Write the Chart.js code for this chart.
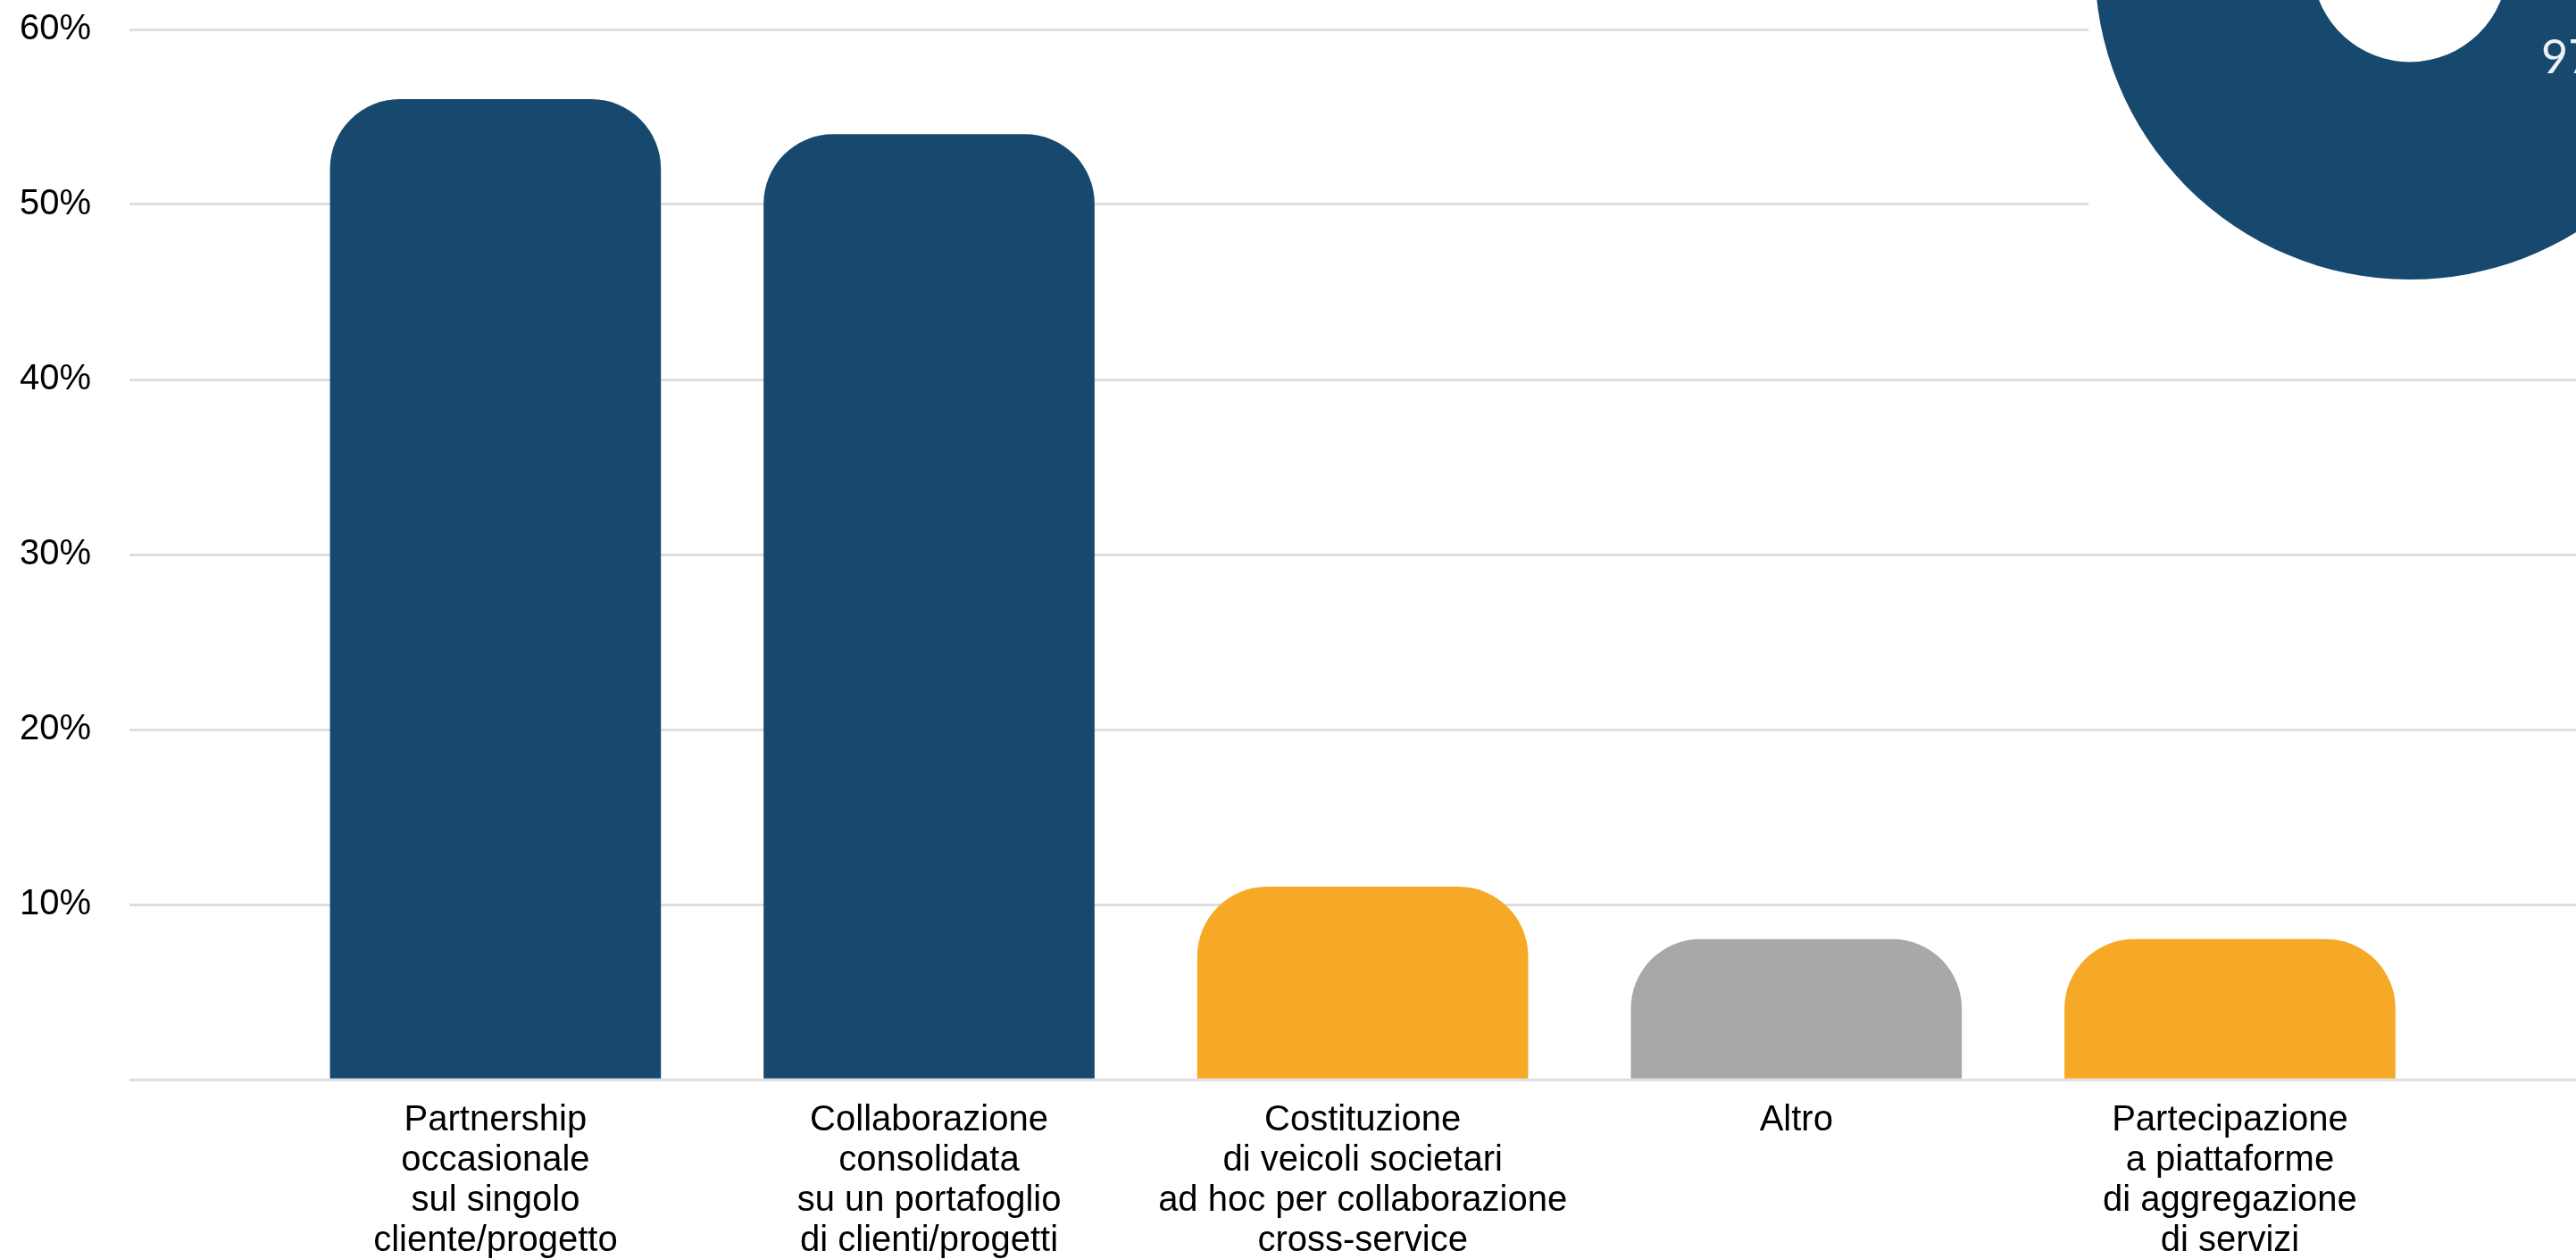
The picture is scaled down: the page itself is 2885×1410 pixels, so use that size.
<!DOCTYPE html>
<html>
<head>
<meta charset="utf-8">
<script src="https://cdn.jsdelivr.net/npm/chart.js@4.4.1/dist/chart.umd.min.js"></script>
<style>
    html, body { margin: 0; padding: 0; background: #fff; overflow: hidden; }
    #main-wrap { position: absolute; left: 0; top: 0; width: 2885px; height: 1410px; }
    #donut-box { position: absolute; left: 2339px; top: 0; width: 546px; height: 330px; background: #fff; overflow: hidden; }
    #donut-wrap { position: absolute; left: 7px; top: -393px; width: 706px; height: 706px; }
    #donut-text { position: absolute; left: 2846px; top: 36px; font-family: 'Lato', 'DejaVu Sans', sans-serif; font-size: 52px; line-height: 52px; color: #eef2f6; white-space: nowrap; }
</style>
</head>
<body>
<div id="main-wrap"><canvas id="mychart"></canvas></div>
<div id="donut-box"><div id="donut-wrap"><canvas id="donut"></canvas></div></div>
<div id="donut-text"></div>
<script>
// dati
const categories = [
    ['Partnership', 'occasionale', 'sul singolo', 'cliente/progetto'],
    ['Collaborazione', 'consolidata', 'su un portafoglio', 'di clienti/progetti'],
    ['Costituzione', 'di veicoli societari', 'ad hoc per collaborazione', 'cross-service'],
    ['Altro'],
    ['Partecipazione', 'a piattaforme', 'di aggregazione', 'di servizi']
]
const shares = [56, 54, 11, 8, 8]
const yMin = 0
const yMax = 60
const yStep = 10
const donutValues = [97, 3]
const donutLabel = '97%'

const blue = '#17496f'
const orange = '#f5a926'
const grey = '#a8a8a8'
const barColors = [blue, blue, orange, grey, orange]

const labelFont = { family: "'Liberation Sans', Arial, Helvetica, sans-serif", size: 40, lineHeight: 1.125 }

// niente padding automatico: l'area del grafico la decidiamo noi
function noPadding(scale) {
    scale.paddingTop = 0
    scale.paddingBottom = 0
    scale.paddingLeft = 0
    scale.paddingRight = 0
}

function showChart() {
    const ctx = document.getElementById('mychart')

    window.barchart = new Chart(ctx, {
        type: 'bar',
        data: {
            datasets: [
                {
                    data: shares.map((v, i) => ({ x: i, y: v })),
                    backgroundColor: barColors,
                    borderWidth: 0,
                    borderRadius: { topLeft: 78, topRight: 78, bottomLeft: 0, bottomRight: 0 },
                    borderSkipped: 'start',
                    barThickness: 370
                }
            ]
        },
        options: {
            responsive: true,
            maintainAspectRatio: false,
            animation: false,
            layout: { padding: { left: 22, right: 0, top: 33, bottom: 0 } },
            plugins: { legend: { display: false }, tooltip: { enabled: false } },
            scales: {
                x: {
                    type: 'linear',
                    offset: false,
                    bounds: 'data',
                    // lascia spazio a sinistra e a destra come nell'originale
                    min: -0.844,
                    max: 4.798,
                    grid: { display: false, drawTicks: false, offset: false },
                    border: { display: false },
                    afterBuildTicks: (scale) => { scale.ticks = categories.map((c, i) => ({ value: i })) },
                    afterFit: (scale) => { scale.height = 201; noPadding(scale) },
                    ticks: {
                        autoSkip: false,
                        maxRotation: 0,
                        minRotation: 0,
                        padding: 23,
                        color: '#000',
                        font: labelFont,
                        callback: (value) => categories[value] || ''
                    }
                },
                y: {
                    min: yMin,
                    max: yMax,
                    grid: { color: '#dedede', lineWidth: 3, drawTicks: false },
                    border: { display: false },
                    afterFit: (scale) => { scale.width = 123; noPadding(scale) },
                    ticks: {
                        stepSize: yStep,
                        padding: 43,
                        color: '#000',
                        font: labelFont,
                        callback: (value) => value === 0 ? '' : value + '%'
                    }
                }
            }
        }
    })
}

function showDonut() {
    const ctx = document.getElementById('donut')

    window.donutchart = new Chart(ctx, {
        type: 'doughnut',
        data: {
            datasets: [
                {
                    data: donutValues,
                    backgroundColor: [blue, orange],
                    borderWidth: 0
                }
            ]
        },
        options: {
            responsive: true,
            maintainAspectRatio: false,
            animation: false,
            cutout: '31%',
            layout: { padding: 0 },
            plugins: { legend: { display: false }, tooltip: { enabled: false } }
        }
    })
    document.getElementById('donut-text').textContent = donutLabel
}

showChart()
showDonut()
</script>
</body>
</html>
